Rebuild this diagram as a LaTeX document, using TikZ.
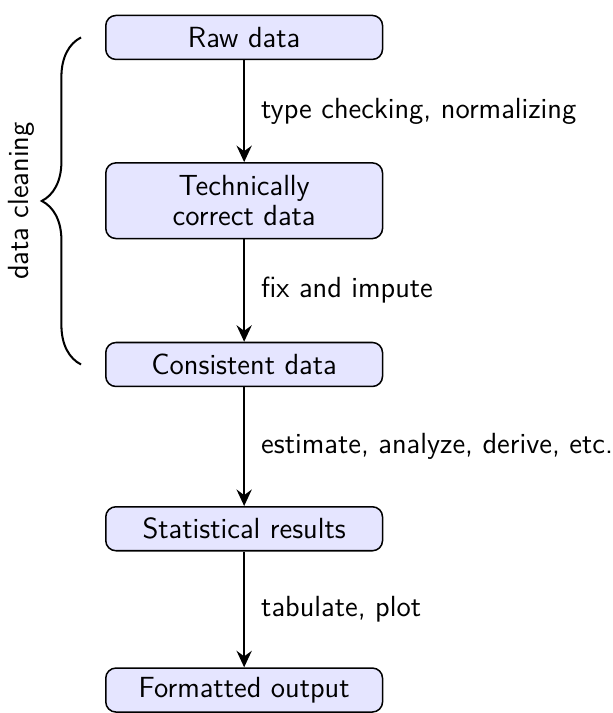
\documentclass[tikz,border=0pt]{standalone}
\usepackage{tikz}
\usetikzlibrary{arrows.meta,calc,decorations.pathreplacing}
\renewcommand{\familydefault}{\sfdefault}

\begin{document}
\begin{tikzpicture}[x=0.01385cm,y=-0.01385cm,
        every node/.style={font=\fontsize{11.5pt}{11.8pt}\selectfont},
        stage/.style={draw, semithick, rounded corners=4pt, fill=blue!10,
            minimum width=3.84cm, minimum height=0.61cm, align=center},
        flow/.style={-{Stealth[length=6.5pt, width=6pt, inset=2.2pt]}, thick},
        cleanbrace/.style={decorate, decoration={brace, amplitude=15.5pt}, thick}]
    \useasboundingbox (0,0) rectangle (613,714);
    % the stages
    \node[stage] (raw) at (244.5,37.5) {Raw data};
    \node[stage, minimum height=1.05cm] (technical) at (244.5,201) {Technically\\correct data};
    \node[stage] (consistent) at (244.5,365) {Consistent data};
    \node[stage] (results) at (244.5,529.5) {Statistical results};
    \node[stage] (output) at (244.5,691) {Formatted output};
    % the steps between them
    \draw[flow] (raw) -- (technical) node[midway, right=3pt] {type checking, normalizing};
    \draw[flow] (technical) -- (consistent) node[midway, right=3pt] {fix and impute};
    \draw[flow] (consistent) -- (results) node[midway, right=3pt] {estimate, analyze, derive, etc.};
    \draw[flow] (results) -- (output) node[midway, right=3pt] {tabulate, plot};
    % data cleaning brace
    \coordinate (bracetop) at ($(raw.west)+(-24,0)$);
    \coordinate (bracebot) at ($(consistent.west)+(-24,0)$);
    \draw[cleanbrace] (bracebot) -- (bracetop)
        node[midway, xshift=-14.5pt, rotate=90, anchor=south] (cleaning) {data cleaning};
\end{tikzpicture}
\end{document}
